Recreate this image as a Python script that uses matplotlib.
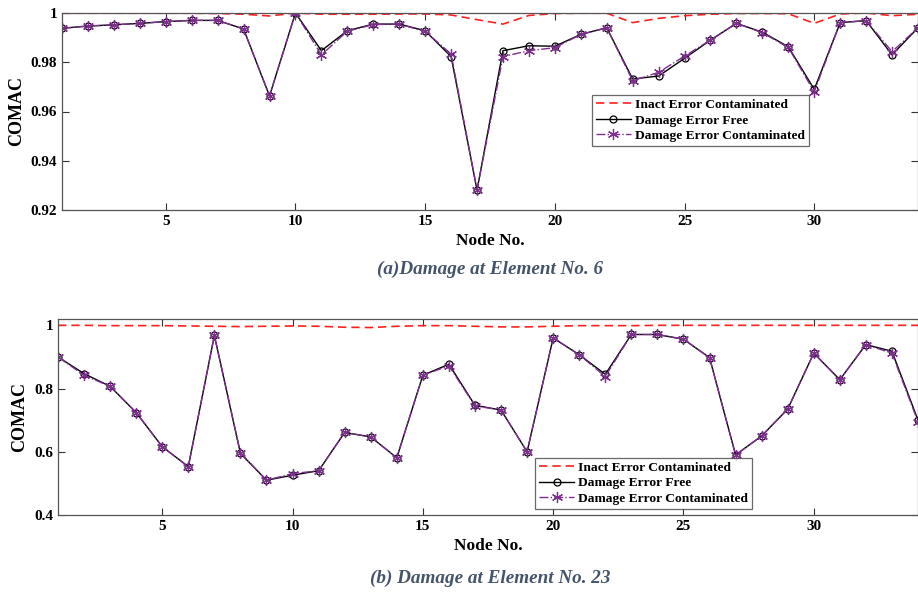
import numpy as np
import matplotlib
matplotlib.use('Agg')
import matplotlib.pyplot as plt
from matplotlib.ticker import FuncFormatter

plt.rcParams['font.family'] = ['Liberation Serif', 'DejaVu Serif']
plt.rcParams['font.weight'] = 'bold'

nodes = np.arange(1, 35)

# (a) damage at element 6
inact_a = [0.9999, 0.9999, 0.9999, 0.9999, 0.9999, 0.9999, 0.9998, 0.9995, 0.9988, 1.0,
           0.9995, 0.9995, 0.9995, 0.9996, 0.9996, 0.9992, 0.9973, 0.9955, 0.999, 0.9998,
           0.9999, 0.9999, 0.9961, 0.9978, 0.9989, 0.9995, 0.9998, 0.9998, 0.9997, 0.9958,
           0.9996, 1.0, 0.9989, 0.9995]
free_a = [0.9938, 0.9947, 0.9952, 0.9958, 0.9965, 0.997, 0.997, 0.9935, 0.9663, 1.0,
          0.9847, 0.9928, 0.9955, 0.9955, 0.9928, 0.9823, 0.9281, 0.9847, 0.9867, 0.9865,
          0.9913, 0.994, 0.9732, 0.9744, 0.9816, 0.989, 0.9958, 0.9922, 0.9863, 0.969,
          0.9961, 0.9969, 0.983, 0.994]
cont_a = [0.9938, 0.9947, 0.9952, 0.9958, 0.9965, 0.997, 0.997, 0.9935, 0.9663, 1.0,
          0.983, 0.9926, 0.9953, 0.9955, 0.9925, 0.9834, 0.9281, 0.9823, 0.9847, 0.9859,
          0.9913, 0.994, 0.9725, 0.9759, 0.9825, 0.989, 0.9958, 0.992, 0.986, 0.968,
          0.9961, 0.9969, 0.9843, 0.994]

# (b) damage at element 23
inact_b = [1.0, 1.0, 0.999, 0.999, 0.999, 0.998, 0.997, 0.996, 0.997, 0.998,
           0.997, 0.994, 0.993, 0.997, 0.999, 0.999, 0.997, 0.995, 0.995, 0.997,
           0.999, 0.999, 0.999, 1.0, 1.0, 1.0, 1.0, 1.0, 1.0, 1.0,
           1.0, 1.0, 1.0, 1.0]
free_b = [0.9, 0.847, 0.807, 0.724, 0.616, 0.553, 0.968, 0.595, 0.51, 0.526,
          0.54, 0.661, 0.647, 0.581, 0.842, 0.877, 0.747, 0.732, 0.6, 0.96,
          0.907, 0.845, 0.971, 0.971, 0.956, 0.898, 0.59, 0.65, 0.735, 0.912,
          0.828, 0.939, 0.918, 0.70]
cont_b = [0.9, 0.842, 0.807, 0.724, 0.616, 0.553, 0.968, 0.597, 0.51, 0.531,
          0.54, 0.661, 0.647, 0.581, 0.842, 0.872, 0.745, 0.732, 0.6, 0.96,
          0.907, 0.838, 0.971, 0.971, 0.956, 0.898, 0.59, 0.65, 0.735, 0.912,
          0.828, 0.939, 0.912, 0.695]

labels = ['Inact Error Contaminated', 'Damage Error Free', 'Damage Error Contaminated']
purple = '#7E2F8E'
cap_color = '#44546A'

fig = plt.figure(figsize=(9.18, 5.93), dpi=100)
W, H = 918.0, 593.0


def make_ax(l, r, t, b):
    return fig.add_axes([l / W, 1 - b / H, (r - l) / W, (b - t) / H])


def draw(ax, inact, free, cont, ylim, yticks, legpos):
    ax.plot(nodes, inact, '--', color='#FF2020', lw=1.2, dashes=(5, 3), label=labels[0])
    ax.plot(nodes, free, '-', color='black', lw=1.0, marker='o', ms=5,
            mfc='none', mew=0.9, label=labels[1])
    ax.plot(nodes, cont, '-.', color=purple, lw=1.0, marker=(6, 2, 0), ms=8,
            mew=0.9, label=labels[2])
    ax.set_xlim(1, 34)
    ax.set_ylim(*ylim)
    ax.set_xticks([5, 10, 15, 20, 25, 30])
    ax.set_yticks(yticks)
    ax.yaxis.set_major_formatter(FuncFormatter(lambda v, p: '%g' % round(v, 2)))
    ax.tick_params(direction='in', top=True, right=True, labelsize=11, length=5,
                   color='#333333', width=0.8)
    for s in ax.spines.values():
        s.set_color('#555555')
        s.set_linewidth(0.9)
    ax.set_ylabel('COMAC', fontsize=13, fontweight='bold', labelpad=4)
    ax.set_xlabel('Node No.', fontsize=12.5, fontweight='bold', labelpad=4)
    leg = ax.legend(loc='lower left', bbox_to_anchor=legpos, fontsize=9.7,
                    frameon=True, fancybox=False, borderpad=0.3, labelspacing=0.22,
                    handlelength=2.6, handletextpad=0.3, borderaxespad=0)
    leg.get_frame().set_edgecolor('#444444')
    leg.get_frame().set_linewidth(0.9)


ax1 = make_ax(62, 918, 13, 210)
draw(ax1, inact_a, free_a, cont_a, (0.92, 1.0), [0.92, 0.94, 0.96, 0.98, 1.0], (0.619, 0.325))
fig.text(490 / W, 1 - 269 / H, '(a)Damage at Element No. 6', ha='center', va='center',
         fontsize=13.8, fontstyle='italic', fontweight='bold', color=cap_color)

ax2 = make_ax(58, 918, 319, 515)
draw(ax2, inact_b, free_b, cont_b, (0.4, 1.02), [0.4, 0.6, 0.8, 1.0], (0.555, 0.031))
fig.text(490 / W, 1 - 578 / H, '(b) Damage at Element No. 23', ha='center', va='center',
         fontsize=13.8, fontstyle='italic', fontweight='bold', color=cap_color)

fig.savefig('out.png', dpi=100)
